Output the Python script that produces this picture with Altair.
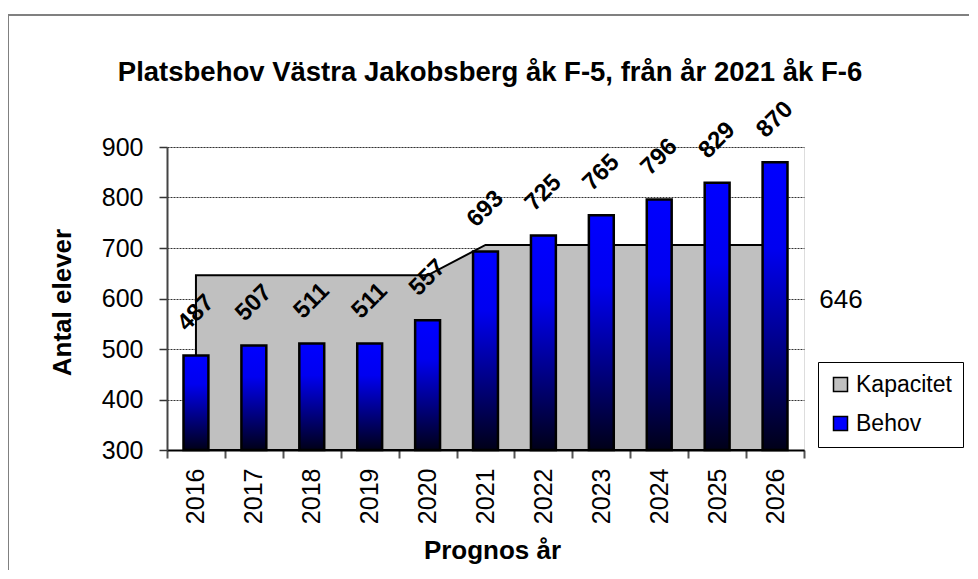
import altair as alt
import pandas as pd

years = ["2016", "2017", "2018", "2019", "2020", "2021", "2022", "2023", "2024", "2025", "2026"]
behov = [487, 507, 511, 511, 557, 693, 725, 765, 796, 829, 870]
kapacitet = [646, 646, 646, 646, 646, 706, 706, 706, 706, 706, 706]
series_names = ["Kapacitet", "Behov"]
series_colors = ["#C0C0C0", "#0000FF"]
side_label = "646"
title_text = "Platsbehov Västra Jakobsberg åk F-5, från år 2021 åk F-6"

df = pd.DataFrame({"year": years, "behov": behov, "kapacitet": kapacitet})
leg_df = pd.DataFrame({"serie": series_names})

FONT = "Liberation Sans"

x_enc = alt.X(
    "year:O",
    scale=alt.Scale(paddingInner=0, paddingOuter=0),
    axis=alt.Axis(
        title="Prognos år",
        labelAngle=270,
        labelAlign="right",
        labelBaseline="middle",
        labelFontSize=25,
        labelFont=FONT,
        labelColor="black",
        labelPadding=10,
        tickBand="extent",
        tickSize=8,
        tickColor="#555555",
        tickWidth=2,
        domainColor="black",
        domainWidth=2,
        grid=False,
        titleFontSize=26,
        titleFont=FONT,
        titleFontWeight="bold",
        titleColor="black",
        titleX=325,
        titleY=108,
        titleBaseline="alphabetic",
        titleAnchor="start",
        titleAlign="center",
    ),
)

y_scale = alt.Scale(domain=[300, 900], zero=False, nice=False)
y_axis = alt.Axis(
    title="Antal elever",
    values=[300, 400, 500, 600, 700, 800, 900],
    labelFontSize=25,
    labelFont=FONT,
    labelColor="black",
    labelPadding=16,
    tickSize=8,
    tickColor="#333333",
    tickWidth=1.5,
    domainColor="#444444",
    domainWidth=2,
    grid=True,
    gridColor="#333333",
    gridDash=[2, 1],
    gridWidth=1,
    titleFontSize=26,
    titleFont=FONT,
    titleFontWeight="bold",
    titleColor="black",
    titleAngle=270,
    titleX=-97,
    titleY=155,
    titleBaseline="alphabetic",
    titleAlign="center",
)

base = alt.Chart(df)

area = base.mark_area(color="#C0C0C0", stroke="black", strokeWidth=2, opacity=1).encode(
    x=x_enc,
    y=alt.Y("kapacitet:Q", scale=y_scale, axis=y_axis),
    y2=alt.datum(300),
)

grad = alt.LinearGradient(
    gradient="linear",
    stops=[
        alt.GradientStop(color="#0000FF", offset=0),
        alt.GradientStop(color="#0000F0", offset=0.3),
        alt.GradientStop(color="#000018", offset=1),
    ],
    x1=0, x2=0, y1=0, y2=1,
)

bars = base.mark_bar(
    fill=grad, stroke="black", strokeWidth=2.5, width=alt.RelativeBandSize(0.43)
).encode(
    x="year:O",
    y=alt.Y("behov:Q", scale=y_scale),
    y2=alt.datum(300),
)

labels = base.mark_text(
    angle=315, align="center", baseline="middle", dx=30, dy=-30,
    fontWeight="bold", fontSize=24, font=FONT, color="black",
).encode(
    x="year:O",
    y=alt.Y("behov:Q", scale=y_scale),
    text="behov:Q",
)

side = alt.Chart(pd.DataFrame({"t": [side_label]})).mark_text(
    fontSize=26, font=FONT, color="black", align="center", baseline="middle"
).encode(x=alt.value(674), y=alt.value(153), text="t:N")

title_layer = alt.Chart(pd.DataFrame({"t": [title_text]})).mark_text(
    fontSize=27.5, font=FONT, fontWeight="bold", color="black", align="center", baseline="middle"
).encode(x=alt.value(323), y=alt.value(-74), text="t:N")

legend_layer = alt.Chart(leg_df).mark_square(size=10).encode(
    x=alt.value(-600),
    y=alt.value(-600),
    color=alt.Color(
        "serie:N",
        scale=alt.Scale(domain=series_names, range=series_colors),
        sort=series_names,
        legend=alt.Legend(
            title=None,
            orient="none",
            legendX=651,
            legendY=215,
            strokeColor="black",
            fillColor="white",
            padding=11,
            symbolType="square",
            symbolSize=196,
            symbolStrokeColor="black",
            symbolStrokeWidth=1.5,
            symbolOpacity=1,
            labelFontSize=23,
            labelFont=FONT,
            labelColor="black",
            labelOffset=4,
            rowPadding=15,
        ),
    ),
)

frame_top = alt.Chart(pd.DataFrame({"a": [0]})).mark_rule(color="#808080", strokeWidth=2).encode(
    x=alt.value(-159), x2=alt.value(820), y=alt.value(-132)
)
frame_left = alt.Chart(pd.DataFrame({"a": [0]})).mark_rule(color="#808080", strokeWidth=2).encode(
    x=alt.value(-159), y=alt.value(-132), y2=alt.value(440)
)

chart = alt.layer(area, bars, labels, side, title_layer, legend_layer, frame_top, frame_left).properties(
    width=637,
    height=303,
    autosize=alt.AutoSizeParams(type="none"),
    padding={"left": 159, "top": 139, "right": 165, "bottom": 120},
).configure_view(
    stroke="#808080", strokeWidth=1.5
).configure(background="white")

chart.save("out.html", embed_options={"renderer": "svg", "actions": False})
